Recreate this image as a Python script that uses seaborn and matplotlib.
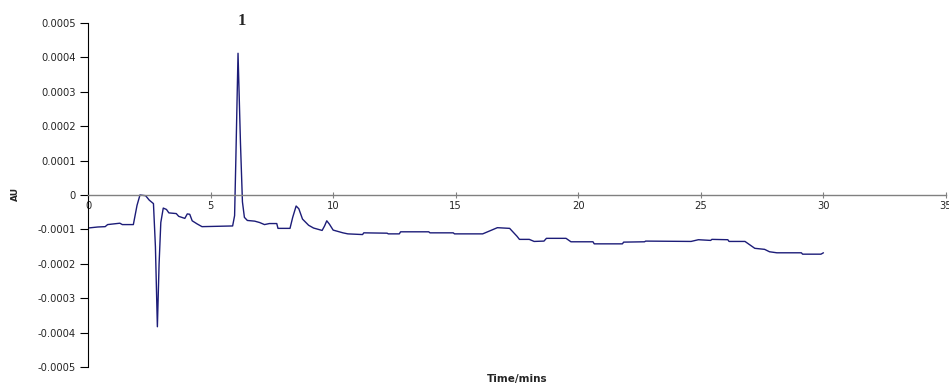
import matplotlib
matplotlib.use("Agg")
import matplotlib.pyplot as plt
import seaborn as sns
import pandas as pd
import numpy as np

# --- data (time in minutes, absorbance in AU) ---
time_min = [0.0, 0.4, 0.7, 0.8, 1.3, 1.4, 1.85, 2.0, 2.12, 2.35, 2.5, 2.67, 2.75, 2.83,
            2.9, 2.97, 3.07, 3.2, 3.3, 3.6, 3.7, 3.95, 4.05, 4.15, 4.25, 4.45, 4.6, 4.65,
            5.9, 5.98, 6.03, 6.12, 6.22, 6.3, 6.38, 6.5, 6.8, 7.0, 7.2, 7.4, 7.7, 7.75,
            8.24, 8.35, 8.49, 8.6, 8.75, 9.0, 9.2, 9.55, 9.65, 9.74, 9.85, 10.0, 10.4,
            10.6, 11.2, 11.25, 12.2, 12.25, 12.7, 12.75, 13.9, 13.95, 14.9, 14.95, 16.1,
            16.3, 16.7, 17.2, 17.5, 17.6, 18.0, 18.2, 18.6, 18.7, 19.5, 19.7, 20.6, 20.65,
            21.8, 21.85, 22.7, 22.75, 24.6, 24.9, 25.4, 25.45, 26.1, 26.15, 26.8, 27.0,
            27.2, 27.6, 27.8, 28.1, 29.1, 29.15, 29.9, 30.0]
au_e5 = [-9.6, -9.3, -9.2, -8.6, -8.2, -8.6, -8.6, -3.0, 0.0, -0.2, -1.5, -2.5, -15.0, -38.3,
         -20.0, -8.0, -3.8, -4.2, -5.2, -5.4, -6.2, -6.8, -5.5, -5.6, -7.5, -8.4, -9.0, -9.2,
         -9.0, -6.0, 10.0, 41.2, 15.0, -2.0, -6.5, -7.4, -7.6, -8.0, -8.6, -8.3, -8.3, -9.7,
         -9.7, -6.5, -3.2, -4.0, -7.0, -8.8, -9.6, -10.3, -9.0, -7.5, -8.5, -10.2, -11.0,
         -11.3, -11.5, -11.0, -11.1, -11.3, -11.3, -10.7, -10.7, -11.0, -11.0, -11.3, -11.3,
         -10.7, -9.5, -9.7, -12.0, -12.9, -12.9, -13.5, -13.4, -12.6, -12.6, -13.6, -13.6, -14.2,
         -14.2, -13.7, -13.6, -13.4, -13.5, -13.0, -13.2, -12.9, -13.0, -13.5, -13.5, -14.5,
         -15.5, -15.8, -16.5, -16.8, -16.8, -17.2, -17.2, -16.8]
absorbance = [v * 1e-5 for v in au_e5]

y_ticks = [0.0005, 0.0004, 0.0003, 0.0002, 0.0001, 0.0, -0.0001, -0.0002, -0.0003, -0.0004, -0.0005]
y_tick_labels = ["0.0005", "0.0004", "0.0003", "0.0002", "0.0001", "0",
                 "-0.0001", "-0.0002", "-0.0003", "-0.0004", "-0.0005"]
x_ticks = [0, 5, 10, 15, 20, 25, 30, 35]
x_tick_labels = ["0", "5", "10", "15", "20", "25", "30", "35"]
peak_label = "1"
peak_label_pos = (6.26, 0.000505)

df = pd.DataFrame({"Time/mins": time_min, "AU": absorbance})

sns.set_style("white")
plt.rcParams["font.family"] = ["DejaVu Sans"]

fig = plt.figure(figsize=(9.49, 3.85), dpi=100)
ax = fig.add_axes([88 / 949, 1 - 367 / 385, (946 - 88) / 949, (367 - 23) / 385])

sns.lineplot(data=df, x="Time/mins", y="AU", ax=ax, color="#1c1c78",
             linewidth=1.0, estimator=None, sort=False)

ax.set_xlim(0, 35)
ax.set_ylim(-0.0005, 0.0005)

ax.set_yticks(y_ticks)
ax.set_yticklabels(y_tick_labels)
ax.set_xticks(x_ticks)
ax.set_xticklabels(x_tick_labels)

for s in ["top", "right"]:
    ax.spines[s].set_visible(False)
ax.spines["left"].set_color("black")
ax.spines["left"].set_linewidth(0.8)
ax.spines["bottom"].set_position(("data", 0))
ax.spines["bottom"].set_color("#808080")
ax.spines["bottom"].set_linewidth(1.0)

ax.tick_params(axis="y", direction="out", length=6, width=0.8, color="black",
               labelsize=7.2, pad=3)
ax.tick_params(axis="x", direction="inout", length=4, width=0.8, color="#808080",
               labelsize=7.2, pad=2)
ax.tick_params(left=True, bottom=True)

ax.set_xlabel("")
ax.set_ylabel("")
fig.text(517 / 949, 1 - 379 / 385, "Time/mins", ha="center", va="center",
         fontsize=7.5, fontweight="bold")
fig.text(15 / 949, 1 - 194 / 385, "AU", ha="center", va="center", rotation=90,
         fontsize=6.5, fontweight="bold")

ax.text(peak_label_pos[0], peak_label_pos[1], peak_label, ha="center", va="center",
        fontsize=12, fontweight="bold", family=["Liberation Serif", "DejaVu Serif"],
        clip_on=False)

fig.savefig("out.png", dpi=100)
